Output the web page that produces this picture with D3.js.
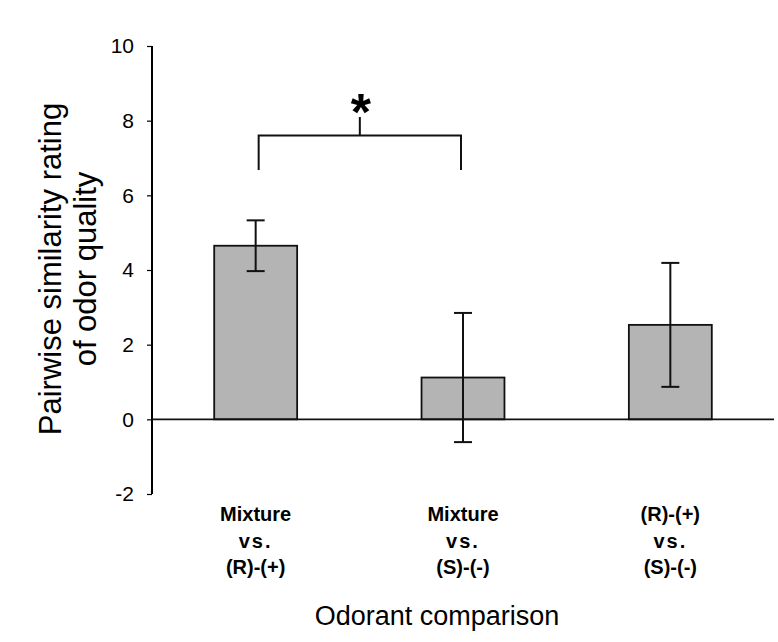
<!DOCTYPE html>
<html>
<head>
<meta charset="utf-8">
<script src="https://d3js.org/d3.v7.min.js"></script>
<style>
  body { margin: 0; background: #fff; }
  text { font-family: Arial, "Liberation Sans", sans-serif; fill: #000; }
</style>
</head>
<body>
<div id="chart"></div>
<script>
// Data
var comparisons = ["Mixture vs. (R)-(+)", "Mixture vs. (S)-(-)", "(R)-(+) vs. (S)-(-)"];
var labelLines = [["Mixture", "vs.", "(R)-(+)"], ["Mixture", "vs.", "(S)-(-)"], ["(R)-(+)", "vs.", "(S)-(-)"]];
var means = [4.65, 1.12, 2.53];
var errors = [0.68, 1.73, 1.66];
var yTicks = [-2, 0, 2, 4, 6, 8, 10];
var bracketLevels = {feet: 6.68, bar: 7.6, stem: 8.1};

var width = 778, height = 642;
var margin = {top: 46, left: 152, right: 4, bottom: 148};

var svg = d3.select("#chart").append("svg")
    .attr("width", width)
    .attr("height", height);

var x = d3.scaleBand()
    .domain(comparisons)
    .range([margin.left, width - margin.right])
    .paddingInner(0.6)
    .paddingOuter(0.3);

var y = d3.scaleLinear()
    .domain([-2, 10])
    .range([height - margin.bottom, margin.top]);

// y axis (plain hyphen for negatives, like the original)
var yAxis = svg.append("g")
    .attr("transform", "translate(" + margin.left + ",0)")
    .call(d3.axisLeft(y).tickValues(yTicks).tickSize(5).tickPadding(13)
      .tickFormat(function(d) { return String(d); }));
yAxis.select(".domain").attr("stroke-width", 2).attr("d", "M0," + y(-2) + "V" + y(10));
yAxis.selectAll(".tick line").attr("stroke-width", 1.2);
yAxis.selectAll(".tick text").style("font-size", "21px").attr("fill", "#000");

// bars
svg.selectAll("rect.bar")
  .data(means)
  .enter().append("rect")
    .attr("class", "bar")
    .attr("x", function(d, i) { return x(comparisons[i]); })
    .attr("width", x.bandwidth())
    .attr("y", function(d) { return y(Math.max(0, d)); })
    .attr("height", function(d) { return Math.abs(y(d) - y(0)); })
    .attr("fill", "#b4b4b4")
    .attr("stroke", "#111")
    .attr("stroke-width", 1.8);

// zero line
svg.append("line")
    .attr("x1", margin.left).attr("x2", width - margin.right)
    .attr("y1", y(0)).attr("y2", y(0))
    .attr("stroke", "#111").attr("stroke-width", 1.8);

// error bars
var cap = 9;
var eb = svg.selectAll("g.err")
  .data(means)
  .enter().append("g")
    .attr("class", "err")
    .attr("stroke", "#111")
    .attr("stroke-width", 2);
eb.append("line")
    .attr("x1", function(d, i) { return x(comparisons[i]) + x.bandwidth() / 2; })
    .attr("x2", function(d, i) { return x(comparisons[i]) + x.bandwidth() / 2; })
    .attr("y1", function(d, i) { return y(d - errors[i]); })
    .attr("y2", function(d, i) { return y(d + errors[i]); });
[-1, 1].forEach(function(s) {
  eb.append("line")
      .attr("x1", function(d, i) { return x(comparisons[i]) + x.bandwidth() / 2 - cap; })
      .attr("x2", function(d, i) { return x(comparisons[i]) + x.bandwidth() / 2 + cap; })
      .attr("y1", function(d, i) { return y(d + s * errors[i]); })
      .attr("y2", function(d, i) { return y(d + s * errors[i]); });
});

// significance bracket between first two bars
var bx1 = x(comparisons[0]) + x.bandwidth() / 2 + 3,
    bx2 = x(comparisons[1]) + x.bandwidth() / 2 - 2,
    bmid = (bx1 + bx2) / 2;
svg.append("path")
    .attr("d", "M" + bx1 + "," + y(bracketLevels.feet) + "V" + y(bracketLevels.bar) +
               "H" + bx2 + "V" + y(bracketLevels.feet) +
               "M" + bmid + "," + y(bracketLevels.bar) + "V" + y(bracketLevels.stem))
    .attr("fill", "none")
    .attr("stroke", "#111")
    .attr("stroke-width", 2);
svg.append("text")
    .attr("x", bmid + 1)
    .attr("y", y(bracketLevels.stem) + 13)
    .attr("text-anchor", "middle")
    .style("font-size", "52px")
    .style("font-weight", "bold")
    .text("*");

// category labels
labelLines.forEach(function(lines, i) {
  var cx = x(comparisons[i]) + x.bandwidth() / 2;
  lines.forEach(function(t, j) {
    svg.append("text")
        .attr("x", cx)
        .attr("y", 521 + j * 26.5)
        .attr("text-anchor", "middle")
        .style("font-size", "20px")
        .style("font-weight", "bold")
        .style("letter-spacing", t == "vs." ? "2px" : "0px")
        .text(t);
  });
});

// axis titles
svg.append("text")
    .attr("x", 437)
    .attr("y", 625)
    .attr("text-anchor", "middle")
    .style("font-size", "27px")
    .text("Odorant comparison");

var yTitle = svg.append("text")
    .attr("transform", "translate(61,269) rotate(-90)")
    .attr("text-anchor", "middle")
    .style("font-size", "31px");
yTitle.append("tspan").attr("x", 0).attr("y", 0).text("Pairwise similarity rating");
yTitle.append("tspan").attr("x", 0).attr("y", 35).text("of odor quality");
</script>
</body>
</html>
